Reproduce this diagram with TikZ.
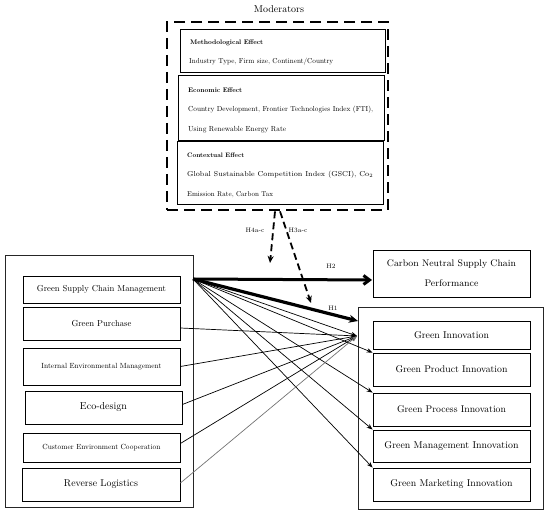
\documentclass[tikz,border=0pt]{standalone}
\usetikzlibrary{arrows.meta,fit}
\newcommand\tw[2]{\resizebox{#1}{!}{#2}}
\begin{document}
\begin{tikzpicture}[x=1pt,y=-1pt,
  box/.style={draw=black,line width=0.8pt,inner sep=0pt},
  outerbox/.style={draw=black!85,line width=0.9pt,inner sep=0pt},
  txt/.style={inner sep=0pt,anchor=west},
  lbl/.style={inner sep=0pt,font=\fontsize{6.5}{7}\selectfont},
  thinarrow/.style={line width=0.7pt,-{Stealth[length=6pt,width=4.5pt]}},
  dasharrow/.style={line width=1.8pt,dash pattern=on 7pt off 4pt,-{Stealth[length=7pt,width=6pt]}},
]
\useasboundingbox (0,0) rectangle (550,516);

% Moderators
\node[inner sep=0pt] (modlabel) at (279,9) {\tw{50pt}{Moderators}};
\node[box,fit={(180,29) (385,72)}] (meth) {};
\node[box,fit={(178,75) (384,140)}] (econ) {};
\node[box,fit={(177,141) (383,204)}] (cont) {};
\node[draw=black,line width=2.8pt,dash pattern=on 11pt off 6pt,inner sep=0pt,fit={(167,22) (388,210)}] (mod) {};

\node[txt] (t1) at (190,43) {\tw{73pt}{\bfseries Methodological Effect}};
\node[txt] (t2) at (189,62) {\tw{144pt}{Industry Type, Firm size, Continent/Country}};
\node[txt] (t3) at (188,90) {\tw{54pt}{\bfseries Economic Effect}};
\node[txt] (t4) at (188,110) {\tw{185pt}{Country Development, Frontier Technologies Index (FTI),}};
\node[txt] (t5) at (188,130) {\tw{98pt}{Using Renewable Energy Rate}};
\node[txt] (t6) at (187,155) {\tw{57pt}{\bfseries Contextual Effect}};
\node[txt] (t7) at (187,175) {\fontsize{7.2}{9}\selectfont\hbox to 186pt{Global\hfill Sustainable\hfill Competition\hfill Index\hfill (GSCI),\hfill Co$_2$}};
\node[txt] (t8) at (187,195) {\tw{86pt}{Emission Rate, Carbon Tax}};

% Left group
\node[outerbox,fit={(5,255) (193,507)}] (left) {};
\node[box,minimum width=157pt,minimum height=27pt] (gscm) at (101.5,289.5) {\tw{129pt}{Green Supply Chain Management}};
\node[box,minimum width=157pt,minimum height=33pt] (gp) at (101.5,323.5) {\tw{60pt}{Green Purchase}};
\node[box,minimum width=157pt,minimum height=37pt] (iem) at (101.5,366.5) {\tw{120pt}{Internal Environmental Management}};
\node[box,minimum width=157pt,minimum height=33pt] (eco) at (103.5,407.5) {\tw{47pt}{Eco-design}};
\node[box,minimum width=157pt,minimum height=29pt] (cec) at (101.5,447.5) {\tw{118pt}{Customer Environment Cooperation}};
\node[box,minimum width=158pt,minimum height=33pt] (rl) at (101,484.5) {\tw{74pt}{Reverse Logistics}};

% Right group
\node[box,minimum width=157pt,minimum height=47pt,align=center,font=\fontsize{9}{20}\selectfont] (cn) at (451.5,273.5) {\tw{129pt}{Carbon Neutral Supply Chain}\\\tw{54pt}{Performance}};
\node[outerbox,fit={(358,307) (543,509)}] (right) {};
\node[box,minimum width=157pt,minimum height=28pt] (gi) at (451.5,335.5) {\tw{75pt}{Green Innovation}};
\node[box,minimum width=157pt,minimum height=33pt] (gpi) at (451.5,369.5) {\tw{112pt}{Green Product Innovation}};
\node[box,minimum width=157pt,minimum height=33pt] (gpr) at (451.5,409.5) {\tw{109pt}{Green Process Innovation}};
\node[box,minimum width=157pt,minimum height=32pt] (gmi) at (451.5,446) {\tw{134pt}{Green Management Innovation}};
\node[box,minimum width=157pt,minimum height=33pt] (gmk) at (451.5,484.5) {\tw{122pt}{Green Marketing Innovation}};

% Connectors
\coordinate (O) at (193,279);
\coordinate (h2end) at (372,280);
\coordinate (h1end) at (358,321);
\coordinate (C) at (357,336);

\draw[line width=3pt,-{Straight Barb[length=6pt,width=9pt]}] (O) -- (h2end);
\draw[line width=3.2pt,-{Stealth[length=9pt,width=8pt]}] (O) -- (h1end);

\draw[thinarrow] (O) -- (C);
\draw[thinarrow] (O) -- (gpi.north west);
\draw[thinarrow] (O) -- (gpr.north west);
\draw[thinarrow] (O) -- (gmi.north west);
\draw[thinarrow] (O) -- (gmk.north west);

\draw[thinarrow] ([yshift=-4.5pt]gp.east) -- (C);
\draw[thinarrow] (iem.east) -- (C);
\draw[thinarrow] ([yshift=3pt]eco.east) -- (C);
\draw[thinarrow] ([yshift=4pt]cec.east) -- (C);
\draw[thinarrow,draw=black!55] ([yshift=1.5pt]rl.east) -- (C);

\draw[dasharrow] ([xshift=-2.5pt]mod.south) -- (270,263) coordinate (h4end);
\draw[dasharrow] ([xshift=2.5pt]mod.south) -- (311,303) coordinate (h3end);

\node[lbl] (lh4) at (255,230) {H4a-c};
\node[lbl] (lh3) at (298,230) {H3a-c};
\node[lbl] (lh2) at (331,266) {H2};
\node[lbl] (lh1) at (333,308) {H1};
\end{tikzpicture}
\end{document}
